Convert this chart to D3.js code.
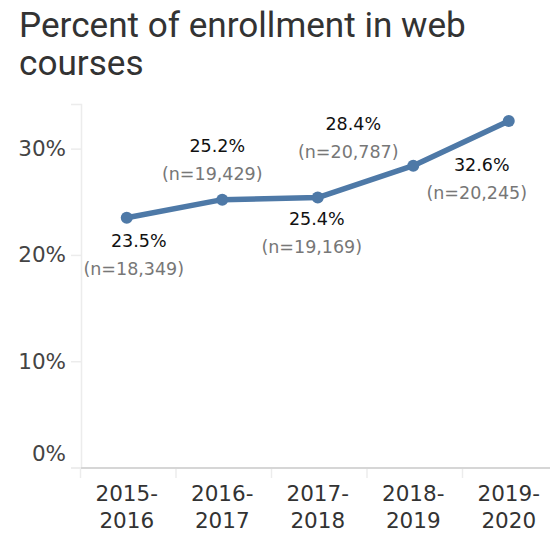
<!DOCTYPE html>
<html>
<head>
<meta charset="utf-8">
<script src="https://cdn.jsdelivr.net/npm/d3@7"></script>
<style>
  html, body { margin: 0; padding: 0; background: #fff; }
  svg { display: block; }
</style>
</head>
<body>
<div id="chart"></div>
<script>
// Academic years on the x axis
const years = ["2015-2016", "2016-2017", "2017-2018", "2018-2019", "2019-2020"];
// Share of enrollment in web courses (percent)
const webShare = [23.5, 25.2, 25.4, 28.4, 32.6];
// Total enrollment behind each share
const enrollment = [18349, 19429, 19169, 20787, 20245];
// Y axis ticks (percent)
const yTicks = [0, 10, 20, 30];

// Where each label sits relative to its point: dx, dy of the first line
const labelPlacement = [
  { dx: 7, dy: 29 },
  { dx: -10, dy: -48 },
  { dx: -6, dy: 27 },
  { dx: -65, dy: -36 },
  { dx: -32, dy: 50 }
];

const W = 550, H = 534;
const labelFont = "'DejaVu Sans', sans-serif";

const svg = d3.select("#chart").append("svg")
  .attr("width", W).attr("height", H);

// Title, wrapped on two lines
const title = svg.append("g").attr("fill", "#333333")
  .style("font-family", "Roboto, 'Noto Sans', sans-serif");
const t1 = title.append("text").attr("x", 19).attr("y", 37)
  .style("font-size", "32px").text("Percent of enrollment in web");
const len = t1.node().getComputedTextLength();
const titleSize = 32 * 447 / len;
t1.style("font-size", titleSize + "px");
title.append("text").attr("x", 19).attr("y", 75)
  .style("font-size", titleSize + "px").text("courses");

// Scales
const x = d3.scaleBand().domain(years).range([79, 556.5]).padding(0);
const y = d3.scaleLinear().domain([0, 34.2]).range([467.5, 104]);
const cx = d => x(d) + x.bandwidth() / 2;

// Y axis line and ticks
const yAxis = svg.append("g").attr("transform", "translate(81,0)")
  .call(d3.axisLeft(y).tickValues(yTicks).tickSize(10).tickPadding(5)
    .tickFormat(d => d + "%"));
yAxis.select(".domain").attr("stroke", "#ececec").attr("stroke-width", 1.5);
yAxis.selectAll(".tick line").attr("stroke", "#ececec").attr("stroke-width", 1.5);
yAxis.selectAll(".tick text")
  .attr("fill", "#444")
  .style("font-family", labelFont)
  .style("font-size", "21.5px");
// the bottom label is lifted so it stays above the baseline
yAxis.selectAll(".tick").filter(d => d === 0).select("text").attr("y", -14);

// X axis baseline with band separators
const xAxis = svg.append("g").attr("transform", "translate(0,468)");
xAxis.append("line")
  .attr("x1", 81).attr("x2", W).attr("y1", 0).attr("y2", 0)
  .attr("stroke", "#d6d6d6").attr("stroke-width", 2);
xAxis.selectAll("line.sep").data(years).join("line")
  .attr("class", "sep")
  .attr("x1", d => x(d) + 1.5).attr("x2", d => x(d) + 1.5)
  .attr("y1", 1).attr("y2", 10)
  .attr("stroke", "#ececec").attr("stroke-width", 1.5);
const xl = xAxis.selectAll("text.cat").data(years).join("text")
  .attr("class", "cat")
  .attr("text-anchor", "middle")
  .attr("fill", "#333")
  .style("font-family", labelFont)
  .style("font-size", "21.5px");
xl.append("tspan").attr("x", d => cx(d)).attr("y", 33)
  .text(d => d.split("-")[0] + "-");
xl.append("tspan").attr("x", d => cx(d)).attr("y", 60)
  .text(d => d.split("-")[1]);

// Line and points
const pts = years.map((d, i) => ({ year: d, v: webShare[i], n: enrollment[i], p: labelPlacement[i] }));
const color = "#4e79a7";
svg.append("path").datum(pts)
  .attr("fill", "none").attr("stroke", color)
  .attr("stroke-width", 5.5).attr("stroke-linejoin", "round").attr("stroke-linecap", "round")
  .attr("d", d3.line().x(d => cx(d.year)).y(d => y(d.v)));
svg.selectAll("circle.pt").data(pts).join("circle")
  .attr("class", "pt")
  .attr("cx", d => cx(d.year)).attr("cy", d => y(d.v))
  .attr("r", 6).attr("fill", color);

// Value labels with enrollment counts
const fmt = d3.format(",");
const lab = svg.selectAll("g.lab").data(pts).join("g").attr("class", "lab")
  .style("font-family", labelFont)
  .style("font-size", "17.5px")
  .attr("text-anchor", "middle");
lab.append("text")
  .attr("x", d => cx(d.year) + d.p.dx + 5)
  .attr("y", d => y(d.v) + d.p.dy)
  .attr("fill", "#111")
  .text(d => d.v.toFixed(1) + "%");
lab.append("text")
  .attr("x", d => cx(d.year) + d.p.dx)
  .attr("y", d => y(d.v) + d.p.dy + 28)
  .attr("fill", "#777")
  .text(d => "(n=" + fmt(d.n) + ")");
</script>
</body>
</html>
